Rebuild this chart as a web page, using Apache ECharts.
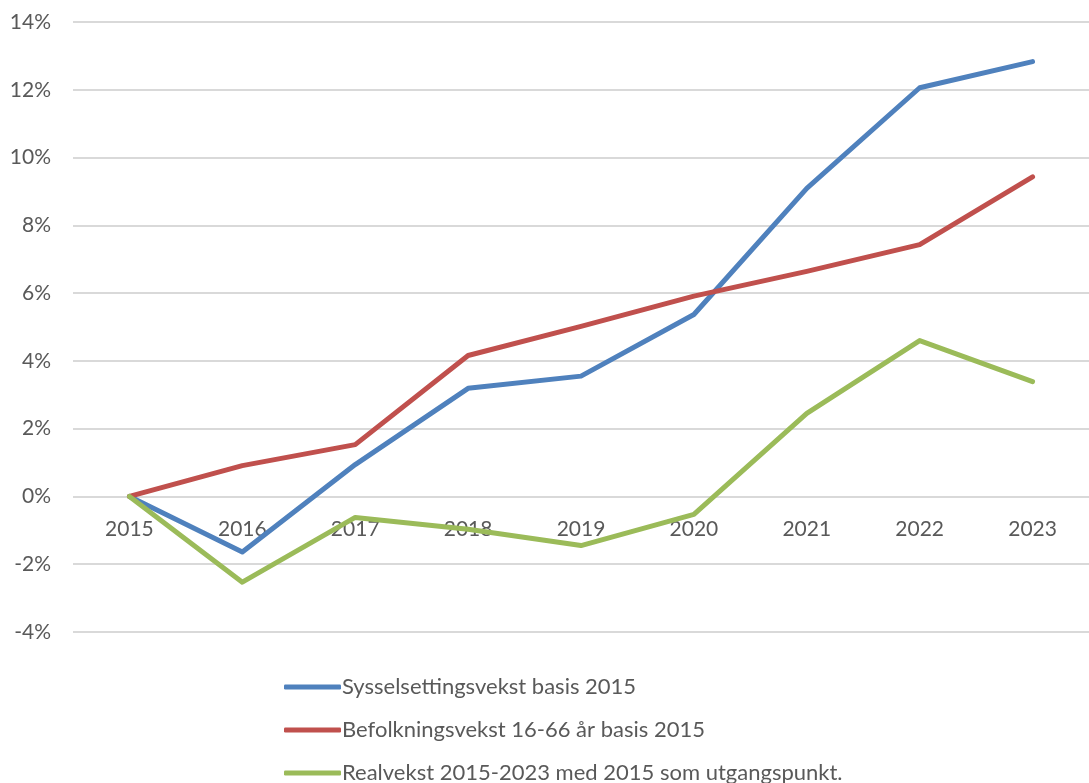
<!DOCTYPE html>
<html><head><meta charset="utf-8">
<script src="https://cdn.jsdelivr.net/npm/echarts@6/dist/echarts.min.js"></script>
<style>html,body{margin:0;padding:0;background:#fff}#c{width:1089px;height:783px}</style>
</head><body><div id="c"></div>
<script>
const years = ['2015','2016','2017','2018','2019','2020','2021','2022','2023'];
const seriesNames = ['Sysselsettingsvekst basis 2015','Befolkningsvekst 16-66 år basis 2015','Realvekst 2015-2023 med 2015 som utgangspunkt.'];
const sysselsetting = [0, -1.64, 0.94, 3.19, 3.55, 5.37, 9.09, 12.06, 12.83];
const befolkning = [0, 0.91, 1.53, 4.16, 5.02, 5.91, 6.64, 7.43, 9.43];
const realvekst = [0, -2.53, -0.62, -0.97, -1.45, -0.53, 2.45, 4.60, 3.39];
const colors = ['#4F81BD','#C0504D','#9BBB59'];
const font = 'Lato, "Open Sans", sans-serif';
const chart = echarts.init(document.getElementById('c'));
const mk = (name, data, i) => ({name, type:'line', data, symbol:'none', smooth:false,
  lineStyle:{width:5, color:colors[i], cap:'round', join:'round'}, itemStyle:{color:colors[i]}});
const legendTops = [671, 714, 757];
chart.setOption({
  animation:false,
  grid:{left:73, right:-9, top:22, bottom:151, containLabel:false},
  xAxis:{type:'category', data:years, boundaryGap:true, offset:-135,
    axisLine:{show:false}, axisTick:{show:false},
    axisLabel:{color:'#595959', fontSize:21, fontFamily:font, margin:22}},
  yAxis:{type:'value', min:-4, max:14, interval:2,
    axisLine:{show:false}, axisTick:{show:false},
    splitLine:{lineStyle:{color:'#D9D9D9', width:2}},
    axisLabel:{color:'#595959', fontSize:21, fontFamily:font, margin:22, formatter: v => v + '%'}},
  legend: seriesNames.map((n, i) => ({orient:'vertical', left:279, top:legendTops[i], itemWidth:57, itemHeight:5,
    icon:'roundRect', itemGap:0,
    textStyle:{color:'#595959', fontSize:22, fontFamily:font, padding:[0,0,0,-4]},
    data:[n]})),
  series:[mk(seriesNames[0], sysselsetting, 0), mk(seriesNames[1], befolkning, 1), mk(seriesNames[2], realvekst, 2)]
});
</script></body></html>
